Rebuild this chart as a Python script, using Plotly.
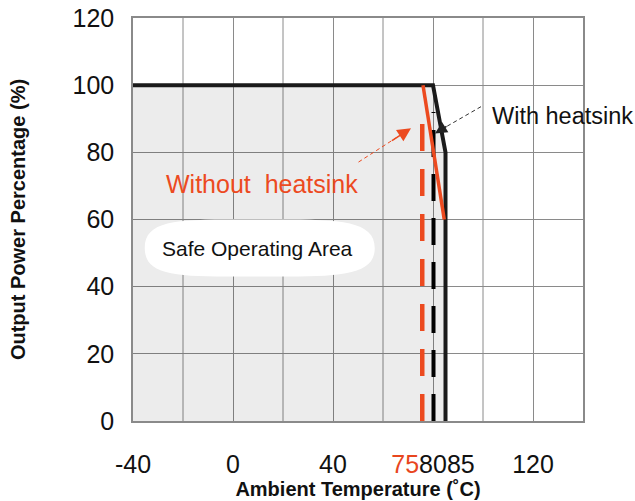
import plotly.graph_objects as go

# ---- data ----
temp_with = [-40, 80, 85, 85]
power_with = [100, 100, 80, 0]
temp_without = [76, 84.5]
power_without = [100, 60]
limit_without_x = [75.7, 75.7]
limit_without_y = [0, 92.5]
limit_with_x = [80.2, 80.2]
limit_with_y = [0, 92]
area_x = [-40, -40, 80, 85, 85]
area_y = [0, 100, 100, 80, 0]
x_tickvals = [-40, 0, 40, 80, 120]
x_ticktext = ["-40", "0", "40", "<span style='color:#e8461e'>75</span>8085", "120"]
y_tickvals = [0, 20, 40, 60, 80, 100, 120]

RED = "#ec4a1f"
GRID = "#8a8a8a"
TICKFONT = "Liberation Sans, Arial, sans-serif"
TXTFONT = "Liberation Sans, Arial, sans-serif"

fig = go.Figure()
fig.add_trace(go.Scatter(x=area_x, y=area_y, fill="toself", fillcolor="rgba(0,0,0,0.075)",
                         line=dict(width=0), mode="lines", hoverinfo="skip"))
fig.add_trace(go.Scatter(x=limit_without_x, y=limit_without_y, mode="lines",
                         line=dict(color=RED, width=4.5, dash="27px,18px")))
fig.add_trace(go.Scatter(x=limit_with_x, y=limit_with_y, mode="lines",
                         line=dict(color="black", width=4, dash="27px,17px")))
fig.add_trace(go.Scatter(x=temp_with, y=power_with, mode="lines",
                         line=dict(color="#1a1a1a", width=4)))
fig.add_trace(go.Scatter(x=temp_without, y=power_without, mode="lines",
                         line=dict(color=RED, width=3.5)))

# dashed arrow shafts
fig.add_shape(type="line", x0=99.2, y0=93.6, x1=81.5, y1=86.0,
              line=dict(color="#333", width=1, dash="4px,3px"))
fig.add_shape(type="line", x0=50.2, y0=77.1, x1=70.0, y1=86.6,
              line=dict(color=RED, width=1, dash="4px,3px"))
# arrowheads
fig.add_annotation(x=80.8, y=85.6, ax=86, ay=88.0, axref="x", ayref="y", xref="x", yref="y",
                   text="", showarrow=True, arrowhead=2, arrowsize=1.6, arrowwidth=1.5, arrowcolor="#222")
fig.add_annotation(x=71.2, y=87.2, ax=63, ay=83.2, axref="x", ayref="y", xref="x", yref="y",
                   text="", showarrow=True, arrowhead=2, arrowsize=1.8, arrowwidth=1.5, arrowcolor=RED)

# Safe operating area blob (white rounded shape)
cx, cy = 9.7, 51.5
L, R, H = 45, 47, 8.5
fig.add_shape(type="path", xref="x", yref="y",
              path=(f"M {cx-L},{cy} C {cx-L},{cy+H+0.5} {cx-30},{cy+H} {cx},{cy+H} "
                    f"C {cx+30},{cy+H} {cx+R},{cy+H+0.5} {cx+R},{cy} "
                    f"C {cx+R},{cy-H-0.5} {cx+30},{cy-H} {cx},{cy-H} "
                    f"C {cx-30},{cy-H} {cx-L},{cy-H-0.5} {cx-L},{cy} Z"),
              fillcolor="white", line=dict(width=0), layer="above")

fig.add_annotation(x=cx, y=cy, text="Safe Operating Area", showarrow=False,
                   font=dict(family=TXTFONT, size=21, color="#111"))
fig.add_annotation(x=11.7, y=70.5, text="Without  heatsink", showarrow=False,
                   font=dict(family=TXTFONT, size=25, color=RED))
fig.add_annotation(x=131.6, y=90.9, text="With heatsink", showarrow=False,
                   font=dict(family=TXTFONT, size=23.5, color="#111"))

fig.update_layout(
    width=635, height=501,
    margin=dict(l=133, r=52, t=18, b=80, autoexpand=False),
    plot_bgcolor="white", paper_bgcolor="white",
    showlegend=False,
)
fig.update_xaxes(range=[-40, 140], tickvals=x_tickvals, ticktext=x_ticktext,
                 showgrid=True, gridcolor=GRID, gridwidth=1,
                 showline=True, linecolor=GRID, linewidth=1.5, mirror=True,
                 tickfont=dict(family=TICKFONT, size=25, color="#111"),
                 ticklabelstandoff=20, zeroline=False, automargin=False,
                 title=dict(text="Ambient Temperature (˚C)", standoff=1,
                            font=dict(family=TXTFONT, size=20, color="#111", weight="bold")))
fig.update_yaxes(range=[0, 120], tickvals=y_tickvals,
                 showgrid=True, gridcolor=GRID, gridwidth=1,
                 showline=True, linecolor=GRID, linewidth=1.5, mirror=True,
                 tickfont=dict(family=TICKFONT, size=25, color="#111"),
                 ticklabelstandoff=12, zeroline=False, automargin=False,
                 title=dict(text="Output Power Percentage (%)", standoff=42,
                            font=dict(family=TXTFONT, size=20, color="#111", weight="bold")))

# vertical grid at every 20 (tick labels only at chosen values)
for gx in range(-20, 140, 20):
    if gx not in x_tickvals:
        fig.add_shape(type="line", x0=gx, x1=gx, y0=0, y1=120, xref="x", yref="y",
                      line=dict(color=GRID, width=1), layer="below")

fig.write_html("out.html")
